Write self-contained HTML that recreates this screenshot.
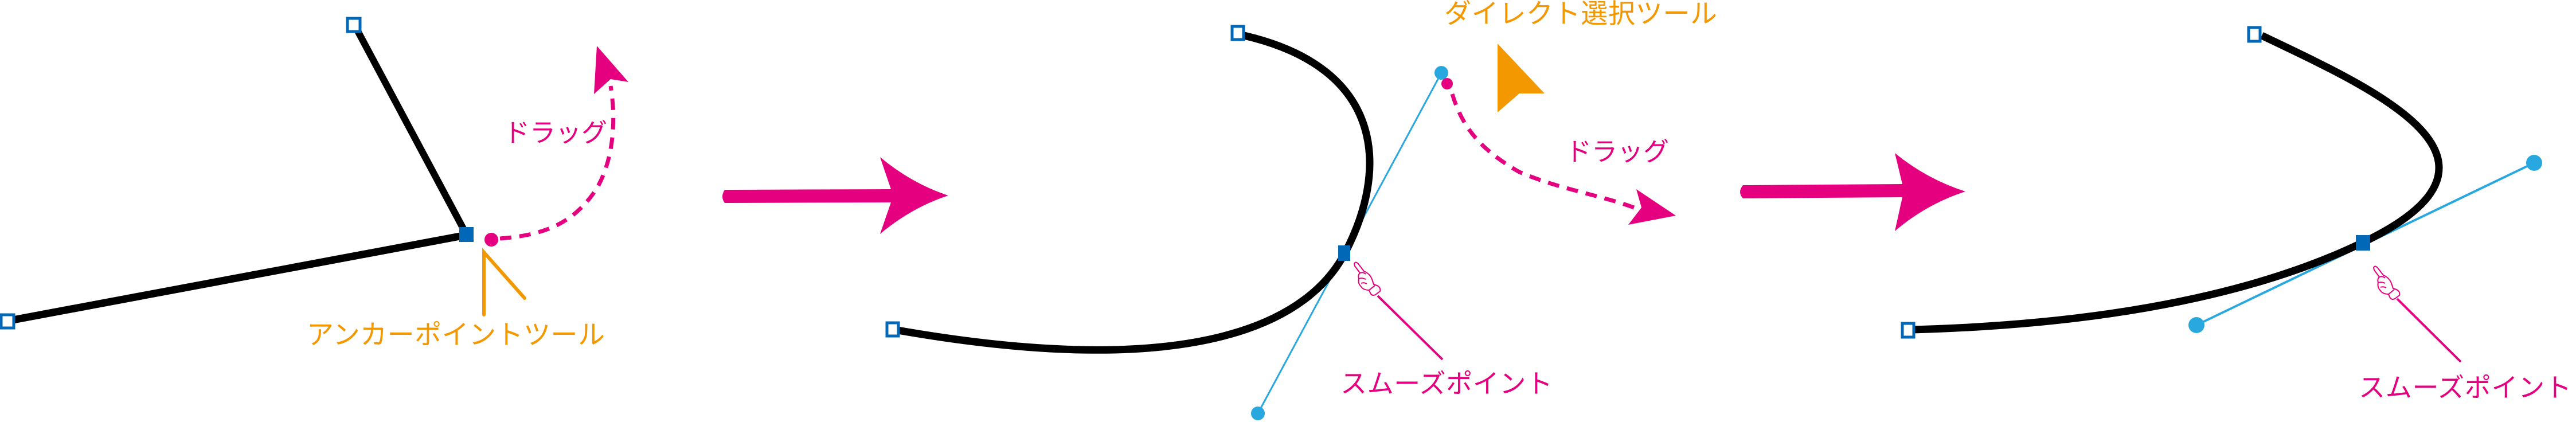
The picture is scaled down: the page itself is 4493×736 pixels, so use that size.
<!DOCTYPE html>
<html><head><meta charset="utf-8"><style>
html,body{margin:0;padding:0;background:#fff;}
svg{display:block;}
text{font-family:"Liberation Sans","Noto Sans CJK JP",sans-serif;}
</style></head><body>
<svg width="4493" height="736" viewBox="0 0 4493 736" xmlns="http://www.w3.org/2000/svg">
<defs>
<g id="hand" fill="#fff" stroke="#e4007f" stroke-width="2" stroke-linejoin="round">
<path d="M0,2 Q2,-3 7,2 L17,15 Q27,19 31,29 L34,38 L40,40 Q47,44 45,50 L37,56 Q31,59 28,53 L26,48 Q16,48 12,42 Q6,36 8,28 Q6,22 10,18 L1,6 Z"/>
<path d="M10,18 Q16,16 20,20 M8,28 Q14,26 20,29 M12,36 Q17,34 22,37 M26,48 L36,40" fill="none"/>
</g>
</defs>

<!-- Panel 1 -->
<line x1="618" y1="43" x2="813" y2="408" stroke="#000" stroke-width="12"/>
<line x1="12" y1="560" x2="813" y2="410" stroke="#000" stroke-width="13"/>
<rect x="606" y="32" width="22" height="23" fill="#fff" stroke="#0068b7" stroke-width="5"/>
<rect x="2" y="549" width="22" height="23" fill="#fff" stroke="#0068b7" stroke-width="5"/>
<rect x="801" y="396" width="25" height="26" fill="#0068b7"/>
<circle cx="857" cy="418" r="12" fill="#e4007f"/>
<path d="M872,416 C950,410 1000,390 1040,330 C1070,280 1075,210 1065,150" fill="none" stroke="#e4007f" stroke-width="7" stroke-dasharray="20,14"/>
<path d="M1041,80 L1096,143 L1065,138 L1036,164 Z" fill="#e4007f"/>
<text x="879" y="247" font-size="45" fill="#e4007f">ドラッグ</text>
<path d="M844,549 L844,440 L915,520" fill="none" stroke="#f39800" stroke-width="6" stroke-linecap="round"/>
<text x="535" y="600" font-size="47" fill="#f39800" textLength="520">アンカーポイントツール</text>

<!-- Arrow 1 -->
<path d="M1264,331 L1554,330 L1535,274 Q1590,320 1654,341 Q1590,362 1535,408 L1554,353 L1264,354 Q1256,343 1264,331 Z" fill="#e4007f"/>

<!-- Panel 2 -->
<line x1="2514" y1="127" x2="2194" y2="721" stroke="#29a8e0" stroke-width="3"/>
<path d="M2170,62 C2420,120 2420,300 2346,441 C2286,555 2100,670 1560,575" fill="none" stroke="#000" stroke-width="13"/>
<rect x="2149" y="46" width="20" height="23" fill="#fff" stroke="#0068b7" stroke-width="5"/>
<rect x="1547" y="563" width="20" height="23" fill="#fff" stroke="#0068b7" stroke-width="5"/>
<rect x="2334" y="428" width="21" height="27" fill="#0068b7"/>
<circle cx="2514" cy="127" r="12" fill="#29a8e0"/>
<circle cx="2194" cy="721" r="12" fill="#29a8e0"/>
<circle cx="2524" cy="146" r="10" fill="#e4007f"/>
<path d="M2533,164 C2550,220 2580,260 2650,300 C2720,330 2790,340 2850,362" fill="none" stroke="#e4007f" stroke-width="7" stroke-dasharray="20,14"/>
<path d="M2923,376 L2854,330 L2863,362 L2840,392 Z" fill="#e4007f"/>
<text x="2731" y="280" font-size="45" fill="#e4007f">ドラッグ</text>
<path d="M2612,76 L2694,163 L2650,163 L2612,196 Z" fill="#f39800"/>
<text x="2519" y="40" font-size="47" fill="#f39800" textLength="476">ダイレクト選択ツール</text>
<use href="#hand" x="2362" y="458"/>
<line x1="2403" y1="516" x2="2516" y2="627" stroke="#e4007f" stroke-width="4"/>
<text x="2338" y="685" font-size="46" fill="#e4007f" textLength="370">スムーズポイント</text>

<!-- Arrow 2 -->
<path d="M3040,323 L3318,321 L3305,267 Q3360,312 3428,334 Q3360,356 3305,403 L3318,344 L3040,346 Q3030,335 3040,323 Z" fill="#e4007f"/>

<!-- Panel 3 -->
<line x1="4420" y1="284" x2="3831" y2="567" stroke="#29a8e0" stroke-width="4"/>
<path d="M3945,62 C4150,160 4420,280 4121,423 C3951,505 3700,565 3335,575" fill="none" stroke="#000" stroke-width="13"/>
<rect x="3922" y="48" width="20" height="24" fill="#fff" stroke="#0068b7" stroke-width="5"/>
<rect x="3318" y="564" width="20" height="24" fill="#fff" stroke="#0068b7" stroke-width="5"/>
<rect x="4109" y="410" width="25" height="27" fill="#0068b7"/>
<circle cx="4420" cy="284" r="14" fill="#29a8e0"/>
<circle cx="3831" cy="567" r="14" fill="#29a8e0"/>
<use href="#hand" x="4140" y="465"/>
<line x1="4181" y1="521" x2="4292" y2="631" stroke="#e4007f" stroke-width="4"/>
<text x="4114" y="692" font-size="46" fill="#e4007f" textLength="371">スムーズポイント</text>
</svg>
</body></html>
